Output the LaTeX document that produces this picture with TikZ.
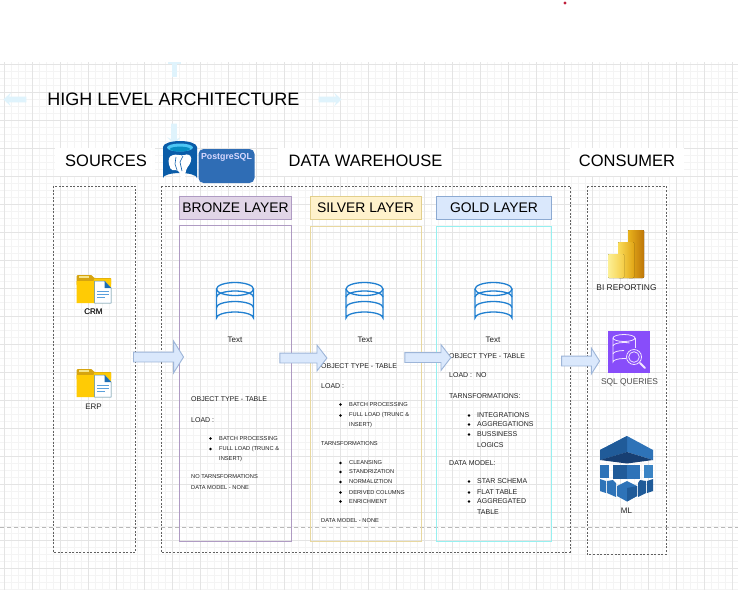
\documentclass[tikz,border=0pt]{standalone}
\usepackage{fontspec}
\setmainfont{Liberation Sans}
\usetikzlibrary{shapes.arrows,shapes.geometric}
\definecolor{gridmajor}{HTML}{E4E4E4}
\definecolor{gridminor}{HTML}{F4F4F4}
\definecolor{guide}{HTML}{DFF3FC}
\definecolor{dbblue}{HTML}{1F7FD0}
\definecolor{txt}{HTML}{222222}
\definecolor{arrowfill}{HTML}{DAE8FC}
\definecolor{arrowline}{HTML}{9DB5D8}
\definecolor{pgblue}{HTML}{2F6DB5}
\definecolor{pgdark}{HTML}{0A5CA8}
\definecolor{awsdeep}{HTML}{173F73}
\definecolor{awsdark}{HTML}{205B99}
\definecolor{awsmid}{HTML}{2E73B8}
\definecolor{awslight}{HTML}{3B84C4}
\definecolor{folderback}{HTML}{D6A410}
\definecolor{foldertab}{HTML}{F5E48A}
\definecolor{folderfront}{HTML}{FFCB05}
\definecolor{docline}{HTML}{4687BE}
\definecolor{doccorner}{HTML}{1E6EB4}
\definecolor{doctext}{HTML}{5AA0DC}
\definecolor{bronzeline}{HTML}{AF9BC3}
\definecolor{bronzefill}{HTML}{E1D5E7}
\definecolor{silverline}{HTML}{E2CF8C}
\definecolor{silverbox}{HTML}{E8D8A0}
\definecolor{silverfill}{HTML}{FFF2CC}
\definecolor{goldline}{HTML}{8CAAD2}
\definecolor{goldfill}{HTML}{DAE8FC}
\definecolor{goldbox}{HTML}{96F0F0}
\definecolor{pba}{HTML}{E8B21C}
\definecolor{pbb}{HTML}{BE7608}
\definecolor{pbc}{HTML}{FADC5A}
\definecolor{pbd}{HTML}{E1A514}
\definecolor{pbe}{HTML}{FCF096}
\definecolor{pbf}{HTML}{F5CD46}
\definecolor{awspurple}{HTML}{884DFA}
\definecolor{sqlline}{HTML}{F3E6FF}
\definecolor{reddot}{HTML}{C0203C}
\tikzset{
  head/.style={font=\fontsize{16.5}{18}\selectfont,text=black,inner sep=0pt},
  layertitle/.style={font=\fontsize{13.9}{15}\selectfont,text=black,inner sep=0pt},
  zone/.style={draw=black!62,line width=.75pt,dash pattern=on 2pt off 1.6pt},
  bigt/.style={anchor=west,inner sep=0pt,text=txt,font=\fontsize{7}{8}\selectfont},
  smallt/.style={anchor=west,inner sep=0pt,text=txt,font=\fontsize{5.7}{7}\selectfont},
  capt/.style={inner sep=0pt,text=txt,font=\fontsize{8}{9}\selectfont},
  bul/.style={circle,fill=black,inner sep=0pt,minimum size=2.6pt},
  blockarrow/.style={single arrow,draw=arrowline,fill=arrowfill,line width=.9pt,inner sep=4.5pt,
     single arrow head extend=#1,single arrow tip angle=116},
  guidearrow/.style={single arrow,fill=guide,inner sep=2.7pt,
     single arrow head extend=4pt,single arrow tip angle=85,single arrow head indent=2pt},
}
\newcommand{\dbicon}[1]{%
  \begin{scope}[shift={(#1,0)},draw=dbblue,line width=1.3pt]
    \draw (-18.5,289) -- (-18.5,318) arc[start angle=180,end angle=360,x radius=18.5,y radius=6] -- (18.5,289);
    \draw (0,289) ellipse[x radius=18.5,y radius=6.5];
    \draw (-18.5,297) arc[start angle=180,end angle=360,x radius=18.5,y radius=6];
    \draw (-18.5,307.5) arc[start angle=180,end angle=360,x radius=18.5,y radius=6];
  \end{scope}}
\newcommand{\foldericon}[1]{%
  \begin{scope}[shift={(76.5,#1)}]
    \fill[rounded corners=.6pt,folderback] (0,6) -- (0,1) -- (1,0) -- (15,0) -- (18,3) -- (34.5,3) -- (34.5,10) -- (0,10) -- cycle;
    \fill[foldertab] (2,1.4) rectangle (12,3);
    \fill[folderfront] (0,6) -- (17,6) -- (18,3.5) -- (34.5,3.5) -- (34.5,28) -- (0,28) -- cycle;
    \filldraw[fill=white,draw=docline,line width=.5pt] (18,6) -- (28,6) -- (34.5,13) -- (34.5,28) -- (18,28) -- cycle;
    \fill[doccorner] (28,6) -- (34.5,13) -- (28,13) -- cycle;
    \foreach \y/\w in {16/32,19/32,22/28.5}
      \draw[doctext,line width=1pt] (20.5,\y) -- (\w,\y);
  \end{scope}}
\begin{document}
\begin{tikzpicture}[x=1pt,y=-1pt]
\useasboundingbox (0,0) rectangle (738,590);
\fill[white] (0,0) rectangle (738,590);
% grid
\foreach \x in {4,11,...,738} \draw[gridminor,line width=.5pt] (\x,62) -- (\x,590);
\foreach \y in {64,71,...,590} \draw[gridminor,line width=.5pt] (0,\y) -- (738,\y);
\foreach \x in {4,32,...,738} \draw[gridmajor,line width=.6pt] (\x,62) -- (\x,590);
\foreach \y in {64,92,...,590} \draw[gridmajor,line width=.6pt] (0,\y) -- (738,\y);
\draw[black!28,dash pattern=on 4pt off 3pt,line width=.6pt] (0,527.5) -- (738,527.5);
% red dot
\fill[reddot] (565,3) circle (1.7);
% guide arrows
\fill[guide] (172,62) rectangle (177,77);
\fill[guide] (168,62) rectangle (181,63.5);
\node[guidearrow,minimum height=23pt,shape border rotate=180] (gl) at (16.5,99.5) {};
\node[guidearrow,minimum height=23pt,shape border rotate=0] (gr) at (328.5,99.5) {};
\node[guidearrow,minimum height=21pt,shape border rotate=270] (gd) at (174,132.5) {};
% title
\node[inner sep=0pt,text=black,font=\fontsize{18}{20}\selectfont] (title) at (173.5,99.5) {HIGH LEVEL ARCHITECTURE};
% heading bands
\fill[white] (55,148) rectangle (155,176);
\fill[white] (278,148) rectangle (452,176);
\fill[white] (570,148) rectangle (684,176);
\node[head] (hsrc) at (106,161) {SOURCES};
\node[head] (hdw) at (365.5,161) {DATA WAREHOUSE};
\node[head] (hcons) at (627,161) {CONSUMER};
% zones
\draw[zone] (53,186) rectangle (135.5,552);
\draw[zone] (161,186) rectangle (570,552);
\draw[zone] (587,186) rectangle (666,554.5);
% layer titles
\draw[draw=bronzeline,fill=bronzefill,line width=1pt] (179.5,196.5) rectangle (291.5,219.5);
\node[layertitle] (tb) at (235.5,208) {BRONZE LAYER};
\draw[draw=silverline,fill=silverfill,line width=1pt] (310.5,196.5) rectangle (421.5,219.5);
\node[layertitle] (ts) at (365.5,208) {SILVER LAYER};
\draw[draw=goldline,fill=goldfill,line width=1pt] (436.5,196.5) rectangle (551.5,219.5);
\node[layertitle] (tg) at (494,208) {GOLD LAYER};
% layer boxes
\draw[draw=bronzeline,line width=1pt] (179.5,225.5) rectangle (291.5,541);
\draw[draw=silverbox,line width=1pt] (310.5,226.5) rectangle (421,541.5);
\draw[draw=goldbox,line width=1pt] (436.5,226.5) rectangle (551.5,541);
% db icons
\dbicon{235}\dbicon{364.5}\dbicon{493.5}
\node[capt] (t1) at (235,340) {Text};
\node[capt] (t2) at (365,340) {Text};
\node[capt] (t3) at (493,340) {Text};
% bronze text
\node[bigt] (b1) at (191,399) {OBJECT TYPE - TABLE};
\node[bigt] (b2) at (191,420) {LOAD :};
\node[bul] at (210.5,438.5) {}; \node[smallt] (b3) at (219,438.5) {BATCH PROCESSING};
\node[bul] at (210.5,449) {}; \node[smallt] (b4) at (219,449) {FULL LOAD (TRUNC \&};
\node[smallt] (b5) at (219,459) {INSERT)};
\node[smallt] (b6) at (191,477) {NO TARNSFORMATIONS};
\node[smallt] (b7) at (191,488) {DATA MODEL - NONE};
% silver text
\node[bigt] (s1) at (321,366) {OBJECT TYPE - TABLE};
\node[bigt] (s2) at (321,386) {LOAD :};
\node[bul] at (340.5,404.5) {}; \node[smallt] (s3) at (349,404.5) {BATCH PROCESSING};
\node[bul] at (340.5,415.5) {}; \node[smallt] (s4) at (349,415.5) {FULL LOAD (TRUNC \&};
\node[smallt] (s5) at (349,425) {INSERT)};
\node[smallt] (s6) at (321,444) {TARNSFORMATIONS};
\foreach \y/\t in {463/CLEANSING,472/STANDRIZATION,482/NORMALIZTION,492.5/DERIVED COLUMNS,501.5/ENRICHMENT}{
  \node[bul] at (340.5,\y) {}; \node[smallt] at (349,\y) {\t};}
\node[smallt] (s7) at (321,521) {DATA MODEL - NONE};
% gold text
\node[bigt] (g1) at (449,356.5) {OBJECT TYPE - TABLE};
\node[bigt] (g2) at (449,375.5) {LOAD :\ \ NO};
\node[bigt] (g3) at (449,396.5) {TARNSFORMATIONS:};
\foreach \y/\t in {415.5/INTEGRATIONS,424.5/AGGREGATIONS,434.5/BUSSINESS}{
  \node[bul] at (469,\y) {}; \node[bigt] at (477,\y) {\t};}
\node[bigt] (g4) at (477,445.5) {LOGICS};
\node[bigt] (g5) at (449,463.5) {DATA MODEL:};
\foreach \y/\t in {481.5/STAR SCHEMA,492.5/FLAT TABLE,501.5/AGGREGATED}{
  \node[bul] at (469,\y) {}; \node[bigt] at (477,\y) {\t};}
\node[bigt] (g6) at (477,512.5) {TABLE};
% folders
\foreach \y in {275,369} \foldericon{\y}
\node[capt] (crm) at (93.5,312) {CRM};
\node[capt] (erp) at (93.5,407) {ERP};
% block arrows
\node[blockarrow=11pt,minimum height=50pt] (a1) at (157,357) {};
\node[blockarrow=8pt,single arrow tip angle=105,minimum height=47pt] (a2) at (301.5,358) {};
\node[blockarrow=8pt,single arrow tip angle=105,minimum height=46pt] (a3) at (426,357.5) {};
\node[blockarrow=8pt,single arrow tip angle=115,minimum height=38pt] (a4) at (579,361) {};
% postgres
\fill[pgdark] (163,147) -- (163,178) arc[start angle=180,end angle=360,x radius=17,y radius=5] -- (197,147) -- cycle;
\fill[pgdark] (180,147) ellipse[x radius=17,y radius=6];
\fill[cyan!70!white] (180,147.5) ellipse[x radius=13,y radius=4];
\fill[pgdark!70!cyan] (180,149) ellipse[x radius=10,y radius=2.4];
\fill[white,rounded corners=1.5pt]
  (171,170) -- (168.5,163) -- (169,157) -- (174,154.5) -- (179,155) -- (183,155.5) -- (188,154) -- (191.5,157) -- (190.5,163) -- (187,168) -- (185.5,172) -- (185,178) -- (181,178) -- (179,171) -- (176,170) -- cycle;
\draw[pgdark,line width=.6pt] (183,156) -- (180,162) -- (182,171);
\draw[pgdark,line width=.6pt] (176,157) -- (175,164) -- (177,170);
\node[fill=pgblue,rounded corners=5pt,minimum width=56pt,minimum height=34pt,inner sep=0pt] (pg) at (226.5,166) {};
\node[inner sep=0pt,text=white!85!blue,font=\bfseries\fontsize{8.8}{9}\selectfont] (pgt) at (226.5,157) {PostgreSQL};
% Power BI
\fill[left color=pba,right color=pbb,rounded corners=.8pt] (628,230) rectangle (644,278);
\fill[left color=pbc,right color=pbd,rounded corners=.8pt] (618,242) rectangle (634,278);
\fill[left color=pbe,right color=pbf,rounded corners=.8pt] (608,254) rectangle (624,278);
\node[capt,font=\fontsize{8.4}{9}\selectfont] (bi) at (626.5,288) {BI REPORTING};
% SQL queries
\fill[awspurple] (608,331) rectangle (650,373);
\begin{scope}[draw=sqlline,line width=.8pt]
  \draw (613,338) -- (613,362) arc[start angle=180,end angle=360,x radius=11,y radius=3.5];
  \draw (613,338) arc[start angle=180,end angle=-180,x radius=11,y radius=3.5];
  \draw (635,338) -- (635,348);
  \draw (613,346) arc[start angle=180,end angle=300,x radius=11,y radius=3.5];
  \draw (613,354) arc[start angle=180,end angle=270,x radius=11,y radius=3.5];
  \fill[awspurple] (634,357) circle (8);
  \draw (634,357) circle (7.5);
  \draw (634,357) circle (5.3);
  \draw[line width=2pt,line cap=round] (640,363) -- (645,368);
\end{scope}
\node[capt,font=\fontsize{8.4}{9}\selectfont,text=black!70] (sql) at (629.5,382) {SQL QUERIES};
% ML cube
\fill[awsmid] (627,436) -- (653,450) -- (653,460) -- (627,452) -- (600,460) -- (600,450) -- cycle;
\fill[awsdark] (627,436) -- (627,452) -- (600,460) -- (600,450) -- cycle;
\fill[awsdeep] (600,460) -- (627,452) -- (653,460) -- (627,463.5) -- cycle;
\fill[awsmid] (600,465) rectangle (609,478);
\fill[awslight] (644,465) rectangle (653,478);
\fill[awsdark] (613,464.5) rectangle (640,479);
\fill[awsmid] (627,464.5) rectangle (640,479);
\fill[awsmid] (600,479) -- (606,481) -- (606,493) -- (600,491) -- cycle;
\fill[awsdark] (653,479) -- (647,481) -- (647,493) -- (653,491) -- cycle;
\fill[awsmid] (607,481) -- (613,480) -- (616,483) -- (616,497) -- (607,493) -- cycle;
\fill[awsdark] (646,481) -- (640,480) -- (638,483) -- (638,497) -- (646,493) -- cycle;
\fill[awsmid] (617,486) -- (627,481) -- (637,486) -- (637,496) -- (627,501.5) -- (617,496) -- cycle;
\fill[awsdark] (627,488) -- (637,486) -- (637,496) -- (627,501.5) -- cycle;
\node[capt] (ml) at (626.5,511) {ML};
\end{tikzpicture}
\end{document}
